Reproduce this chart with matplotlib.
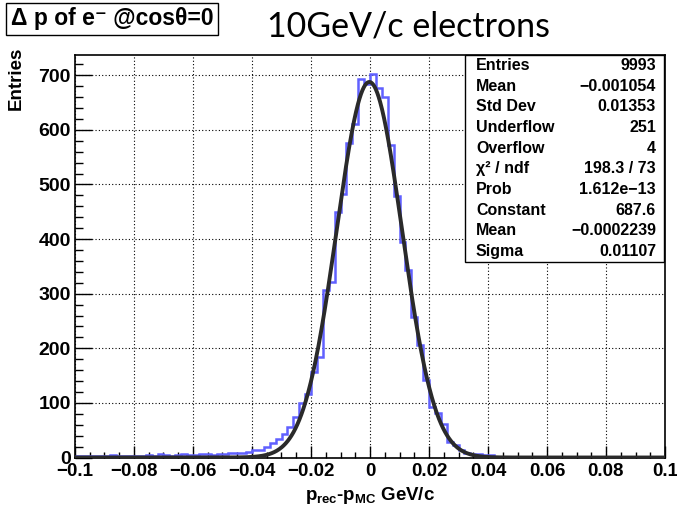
import numpy as np
import matplotlib
matplotlib.use("Agg")
import matplotlib.pyplot as plt
from matplotlib.patches import Rectangle
from matplotlib.ticker import MultipleLocator, FuncFormatter

plt.rcParams['font.family'] = ['Liberation Sans', 'DejaVu Sans']
plt.rcParams['mathtext.fontset'] = 'custom'
plt.rcParams['mathtext.rm'] = 'Liberation Sans:bold'
plt.rcParams['mathtext.it'] = 'Liberation Sans:bold'
plt.rcParams['mathtext.bf'] = 'Liberation Sans:bold'

# ---- data ----
bin_edges_range = (-0.1, 0.1)
n_bins = 100
left_tail = [2, 3, 2, 3, 2, 3, 4, 2, 3, 2,
             3, 3, 4, 3, 6, 5, 3, 4, 6, 5,
             4, 6, 6, 5, 6, 7, 9, 8, 9, 10]          # -0.099 .. -0.041
core = [14, 14, 20, 26, 33, 43, 56, 75, 99, 117,
        157, 184, 306, 322, 450, 483, 575, 610, 693, 684,
        702, 676, 660, 572, 479, 395, 343, 258, 206, 142,
        93, 82, 62, 29, 23, 14, 9, 6, 7, 5, 5]       # -0.039 .. 0.041
right_tail = [0] * 29                                 # 0.043 .. 0.099
counts = np.array(left_tail + core + right_tail, dtype=float)

fit_constant = 687.6
fit_mean = -0.0002239
fit_sigma = 0.01107

stats_labels = ["Entries", "Mean", "Std Dev", "Underflow", "Overflow",
                "χ² / ndf", "Prob", "Constant", "Mean", "Sigma"]
stats_values = ["9993", "−0.001054", "0.01353", "251", "4",
                "198.3 / 73", "1.612e−13", "687.6", "−0.0002239", "0.01107"]

W, H = 677, 505
fig = plt.figure(figsize=(W / 100, H / 100), dpi=100)
fig.patch.set_facecolor('white')

L, R, T, B = 75, 665, 55, 457.5
ax = fig.add_axes([L / W, 1 - B / H, (R - L) / W, (B - T) / H])

edges = np.linspace(bin_edges_range[0], bin_edges_range[1], n_bins + 1)
ax.stairs(counts, edges, color='#6060ff', lw=1.8, baseline=None, zorder=3)

xf = np.linspace(-0.1, 0.1, 1200)
yf = fit_constant * np.exp(-0.5 * ((xf - fit_mean) / fit_sigma) ** 2)
ax.plot(xf, yf, color='#2a2a2a', lw=2.8, zorder=4)

ax.set_xlim(-0.1, 0.1)
ax.set_ylim(0, 737)

ax.xaxis.set_major_locator(MultipleLocator(0.02))
ax.xaxis.set_minor_locator(MultipleLocator(0.005))
ax.yaxis.set_major_locator(MultipleLocator(100))
ax.yaxis.set_minor_locator(MultipleLocator(20))

def xfmt(v, pos):
    if abs(v) < 1e-9:
        return "0"
    s = f"{v:.2f}".rstrip('0')
    if s.endswith('.'):
        s = s[:-1]
    return s.replace('-', '−')

ax.xaxis.set_major_formatter(FuncFormatter(xfmt))
ax.yaxis.set_major_formatter(FuncFormatter(lambda v, p: f"{int(round(v))}"))

ax.tick_params(axis='x', which='major', direction='in', length=9, width=1.0,
               labelsize=13.5, pad=4)
ax.tick_params(axis='x', which='minor', direction='in', length=4.5, width=1.0)
ax.tick_params(axis='y', which='major', direction='in', length=12, width=1.0,
               labelsize=14, pad=3)
ax.tick_params(axis='y', which='minor', direction='in', length=6, width=1.0)
for lab in ax.get_xticklabels() + ax.get_yticklabels():
    lab.set_fontweight('bold')

ax.grid(True, which='major', color='black', linestyle=(0, (1, 2)), lw=0.8)
ax.set_axisbelow(True)
for sp in ax.spines.values():
    sp.set_linewidth(1.2)

ax.set_xlabel(r"$p_{rec}$-$p_{MC}$ GeV/c", fontsize=13.5, fontweight='bold')
ax.xaxis.set_label_coords(0.5, -0.068)
ax.set_ylabel("Entries", fontsize=13.5, fontweight='bold', loc='top')
ax.yaxis.set_label_coords(-0.085, 1.02)

# stats box
sx0, sx1, sy0, sy1 = 465, 664, 55, 262
box = Rectangle((sx0 / W, 1 - sy1 / H), (sx1 - sx0) / W, (sy1 - sy0) / H,
                transform=fig.transFigure, facecolor='white', edgecolor='black',
                lw=1.0, zorder=10)
fig.patches.append(box)
rowh = (sy1 - sy0) / len(stats_labels)
for i, (lab, val) in enumerate(zip(stats_labels, stats_values)):
    yc = sy0 + rowh * (i + 0.5)
    fig.text(476 / W, 1 - yc / H, lab, ha='left', va='center', fontsize=11.5,
             fontweight='bold', zorder=11)
    fig.text(656 / W, 1 - yc / H, val, ha='right', va='center', fontsize=11.5,
             fontweight='bold', zorder=11)

# title box
fig.text(11 / W, 1 - 19 / H, "Δ p of e⁻ @cosθ=0", ha='left', va='center',
         fontsize=16.5, fontweight='bold',
         bbox=dict(boxstyle='square,pad=0.2', facecolor='white',
                   edgecolor='black', lw=1.0))

fig.text(409 / W, 1 - 27 / H, "10GeV/c electrons", ha='center', va='center',
         fontsize=24.5, family=['Lato', 'DejaVu Sans'])

fig.savefig("out.png", dpi=100)
